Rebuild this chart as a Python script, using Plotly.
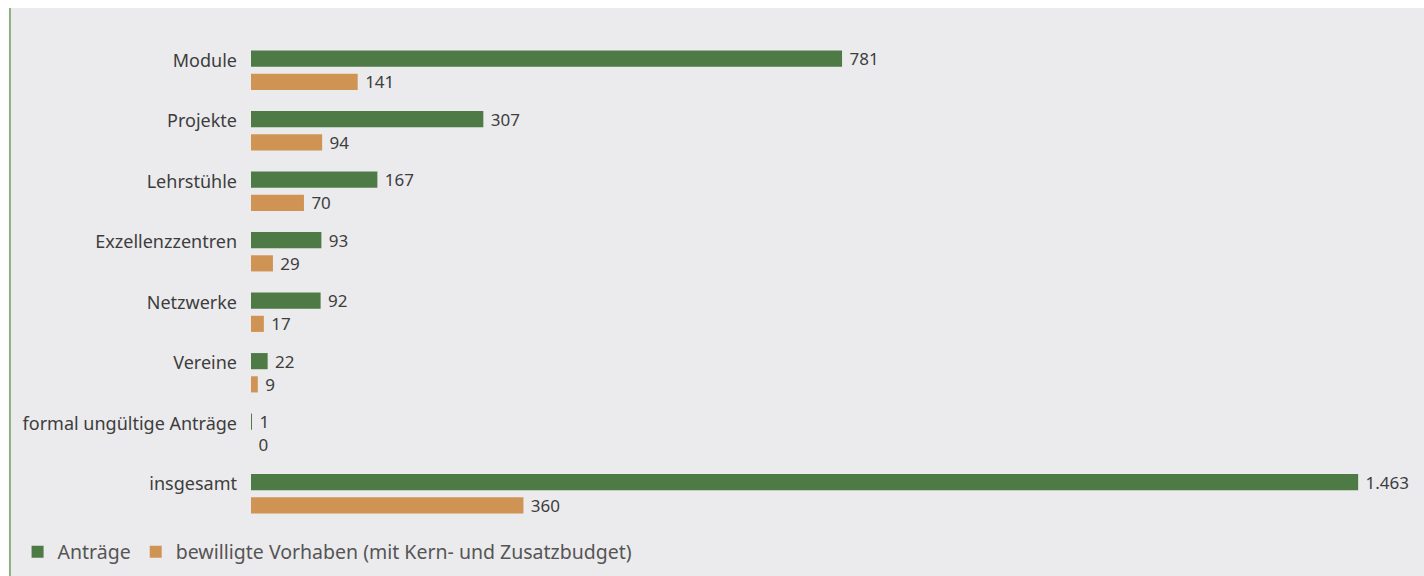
import plotly.graph_objects as go

# Kategorien und Werte
categories = ["Module", "Projekte", "Lehrstühle", "Exzellenzzentren", "Netzwerke",
              "Vereine", "formal ungültige Anträge", "insgesamt"]
antraege = [781, 307, 167, 93, 92, 22, 1, 1463]
bewilligt = [141, 94, 70, 29, 17, 9, 0, 360]
antraege_labels = ["781", "307", "167", "93", "92", "22", "1", "1.463"]
bewilligt_labels = ["141", "94", "70", "29", "17", "9", "0", "360"]

GREEN = "#4e7a46"
ORANGE = "#cf9454"
BG = "#ebebed"
TEXT = "#3d3d3d"
FONT = "Noto Sans"

fig = go.Figure()
for vals, labels, name, color in [
    (antraege, antraege_labels, "Anträge", GREEN),
    (bewilligt, bewilligt_labels, "bewilligte Vorhaben (mit Kern- und Zusatzbudget)", ORANGE),
]:
    fig.add_trace(go.Bar(
        y=categories, x=vals, orientation="h", name=name,
        marker=dict(color=color, line=dict(width=0)),
        text=[" " + t for t in labels], textposition="outside",
        constraintext="none", cliponaxis=False,
        textfont=dict(family=FONT, size=17, color=TEXT),
        hoverinfo="x+y",
    ))

fig.update_layout(
    width=1424, height=576,
    margin=dict(l=251, r=0, t=40, b=52),
    paper_bgcolor="white",
    plot_bgcolor=BG,
    barmode="group",
    bargap=0.233,
    bargroupgap=0.304,
    font=dict(family=FONT, color=TEXT, size=17),
    showlegend=True,
    legend=dict(
        orientation="h", x=-0.199, xanchor="left", y=-0.058, yanchor="middle",
        font=dict(family=FONT, size=19.5, color="#555555"),
        bgcolor="rgba(0,0,0,0)", traceorder="normal",
        itemwidth=30,
    ),
    xaxis=dict(range=[0, 1550], visible=False, fixedrange=True),
    yaxis=dict(autorange="reversed", showgrid=False, zeroline=False,
               showline=False, ticks="", ticklabelstandoff=13,
               ticklabelshift=10,
               tickfont=dict(family=FONT, size=18, color=TEXT)),
    shapes=[
        # grauer Hintergrund über den gesamten Bereich rechts der Linie
        dict(type="rect", xref="paper", yref="paper", x0=-0.2055, x1=1.0,
             y0=-0.11, y1=1.066, fillcolor=BG, line=dict(width=0), layer="below"),
        # grüne Randlinie links
        dict(type="line", xref="paper", yref="paper", x0=-0.2055, x1=-0.2055,
             y0=-0.11, y1=1.066, line=dict(color="#8fb07f", width=2)),
    ],
)

fig.write_html("out.html")
